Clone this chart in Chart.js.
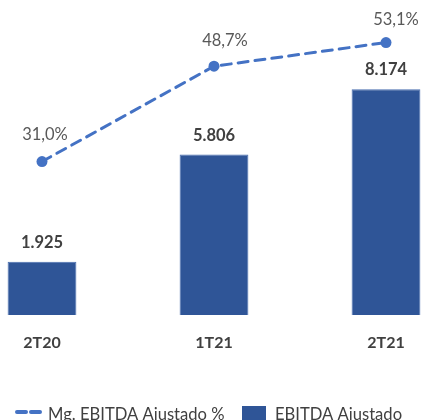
<!DOCTYPE html>
<html>
<head>
<meta charset="utf-8">
<script src="https://cdn.jsdelivr.net/npm/chart.js@4"></script>
<style>
  html, body { margin: 0; padding: 0; overflow: hidden; background: #fff; }
  #wrap { position: absolute; left: -44px; top: 0; width: 516px; height: 420px; }
</style>
</head>
<body>
<div id="wrap"><canvas id="chart"></canvas></div>
<script>
var categories = ["2T20", "1T21", "2T21"];
var ebitdaValues = [1925, 5806, 8174];
var ebitdaLabels = ["1.925", "5.806", "8.174"];
var marginValues = [31.0, 48.7, 53.1];
var marginLabels = ["31,0%", "48,7%", "53,1%"];
var legendNames = ["Mg. EBITDA Ajustado %", "EBITDA Ajustado"];

var FONT = "Lato, 'Open Sans', sans-serif";

// value labels over points and bars
var valueLabels = {
    id: 'valueLabels',
    afterDatasetsDraw: function(chart) {
        var ctx = chart.ctx;
        // the % labels sit a bit to the right of the markers in the original
        var pctShift = [[3, -27], [11, -26], [10, -23]];
        ctx.save();
        ctx.textAlign = 'center';
        ctx.textBaseline = 'middle';
        chart.getDatasetMeta(0).data.forEach(function(pt, i) {
            ctx.font = "16.5px " + FONT;
            ctx.fillStyle = '#595959';
            ctx.fillText(marginLabels[i], pt.x + pctShift[i][0], pt.y + pctShift[i][1]);
        });
        chart.getDatasetMeta(1).data.forEach(function(bar, i) {
            ctx.font = "bold 16.5px " + FONT;
            ctx.fillStyle = '#404040';
            ctx.fillText(ebitdaLabels[i], bar.x, bar.y - 19);
        });
        ctx.restore();
    }
};

// legend at the bottom, partly cut by the frame like the original
var bottomLegend = {
    id: 'bottomLegend',
    afterDraw: function(chart) {
        var ctx = chart.ctx;
        var off = 44;
        var y = 412;
        ctx.save();
        ctx.strokeStyle = '#4472C4';
        ctx.lineWidth = 4;
        ctx.lineCap = 'round';
        ctx.setLineDash([9, 5]);
        ctx.beginPath();
        ctx.moveTo(off + 17, y);
        ctx.lineTo(off + 41, y);
        ctx.stroke();
        ctx.setLineDash([]);
        ctx.fillStyle = '#2F5597';
        ctx.fillRect(off + 242, 406, 24, 16);
        ctx.font = "16.6px " + FONT;
        ctx.fillStyle = '#404040';
        ctx.textAlign = 'left';
        ctx.textBaseline = 'alphabetic';
        ctx.fillText(legendNames[0], off + 48, 420);
        ctx.fillText(legendNames[1], off + 275, 420);
        ctx.restore();
    }
};

new Chart(document.getElementById("chart"), {
    data: {
        labels: categories,
        datasets: [
            {
                type: 'line',
                label: legendNames[0],
                data: marginValues,
                yAxisID: 'y1',
                borderColor: '#4472C4',
                backgroundColor: '#4472C4',
                borderWidth: 3,
                borderDash: [10, 7],
                borderCapStyle: 'round',
                pointRadius: 5.5,
                pointBackgroundColor: '#4472C4',
                pointBorderWidth: 0,
                tension: 0
            },
            {
                type: 'bar',
                label: legendNames[1],
                data: ebitdaValues,
                yAxisID: 'y',
                backgroundColor: '#2F5597',
                borderColor: '#4A6FB0',
                borderWidth: 1,
                barPercentage: 0.4,
                categoryPercentage: 1.0
            }
        ]
    },
    options: {
        responsive: true,
        maintainAspectRatio: false,
        animation: false,
        layout: { padding: 0, autoPadding: false },
        plugins: {
            legend: { display: false },
            tooltip: { enabled: false }
        },
        scales: {
            x: {
                offset: true,
                grid: { display: false, drawTicks: false },
                border: { display: false },
                ticks: {
                    padding: 18,
                    color: '#404040',
                    font: { family: FONT, size: 16, weight: 'bold' }
                },
                afterFit: function(scale) { scale.height = 105; }
            },
            y: { display: false, min: 0, max: 11400 },
            y1: { display: false, min: 2.5, max: 61 }
        }
    },
    plugins: [valueLabels, bottomLegend]
});
</script>
</body>
</html>
